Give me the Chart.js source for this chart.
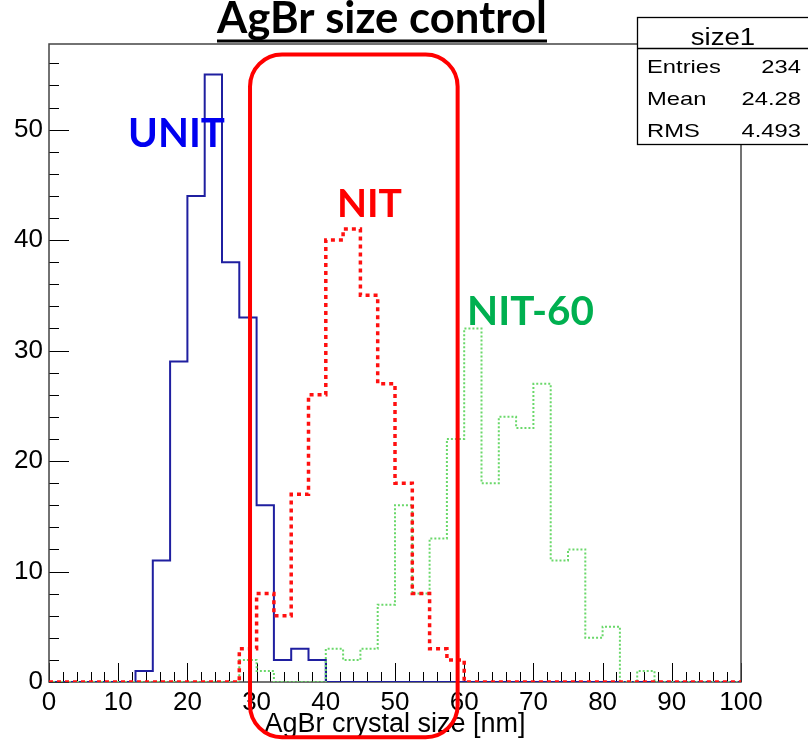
<!DOCTYPE html>
<html>
<head>
<meta charset="utf-8">
<script src="https://cdn.jsdelivr.net/npm/chart.js@4.4.1/dist/chart.umd.min.js"></script>
<style>
  html, body { margin: 0; padding: 0; background: #fff; }
</style>
</head>
<body>
<canvas id="size1" width="808" height="742"></canvas>
<script>
// 40 bins of 2.5 nm between 0 and 100 nm, counts
var binWidth = 2.5
var unitCounts = [0,0,0,0,0, 1,11,29,44,55, 38,33,16,2,3, 2,0,0,0,0, 0,0,0,0,0, 0,0,0,0,0, 0,0,0,0,0, 0,0,0,0,0]
var nitCounts = [0,0,0,0,0, 0,0,0,0,0, 0,3,8,6,17, 26,40,41,35,27, 18,8,3,2,0, 0,0,0,0,0, 0,0,0,0,0, 0,0,0,0,0]
var nit60Counts = [0,0,0,0,0, 0,0,0,0,0, 0,2,1,0,0, 0,3,2,3,7, 16,8,13,22,32, 18,24,23,27,11, 12,4,5,0,1, 0,0,0,0,0]

var xTickValues = [0, 10, 20, 30, 40, 50, 60, 70, 80, 90, 100]
var yTickValues = [0, 10, 20, 30, 40, 50]
var yMax = 57.75

var chartTitle = 'AgBr size control'
var xTitle = 'AgBr crystal size [nm]'
var statsName = 'size1'
var statsLabels = ['Entries', 'Mean', 'RMS']
var statsValues = ['234', '24.28', '4.493']

var tickFont = "'Liberation Sans', Arial, sans-serif"
var noteFont = "Lato, 'Open Sans', sans-serif"

// step outline: one point per lower bin edge plus the closing edge
function histPoints(counts) {
  var pts = counts.map(function(c, i) { return {x: i * binWidth, y: c} })
  pts.push({x: counts.length * binWidth, y: counts[counts.length - 1]})
  return pts
}

function fitSize(ctx, text, weight, family, width) {
  ctx.font = weight + ' 100px ' + family
  return 100 * width / ctx.measureText(text).width
}

function stretchText(ctx, text, x, y, align, size, sx) {
  ctx.save()
  ctx.translate(x, y)
  ctx.scale(sx, 1)
  ctx.font = size + 'px ' + tickFont
  ctx.textAlign = align
  ctx.textBaseline = 'alphabetic'
  ctx.fillText(text, 0, 0)
  ctx.restore()
}

function note(ctx, text, color, left, baseline, width) {
  var size = fitSize(ctx, text, 'bold', noteFont, width)
  ctx.font = 'bold ' + size + 'px ' + noteFont
  ctx.fillStyle = color
  ctx.textAlign = 'left'
  ctx.textBaseline = 'alphabetic'
  ctx.fillText(text, left, baseline)
}

var rootLook = {
  id: 'rootLook',
  beforeDatasetsDraw: function(chart) {
    var ctx = chart.ctx, a = chart.chartArea, sx = chart.scales.x, sy = chart.scales.y
    ctx.save()
    ctx.strokeStyle = '#000'
    ctx.lineWidth = 1
    ctx.beginPath()
    // inward ticks, primary every 10, secondary every 2
    for (var v = 0; v <= 100; v += 2) {
      var px = Math.round(sx.getPixelForValue(v)) + 0.5
      ctx.moveTo(px, a.bottom)
      ctx.lineTo(px, a.bottom - (v % 10 === 0 ? 19 : 10))
    }
    for (var w = 0; w <= yMax; w += 2) {
      var py = Math.round(sy.getPixelForValue(w)) + 0.5
      ctx.moveTo(a.left, py)
      ctx.lineTo(a.left + (w % 10 === 0 ? 20 : 10), py)
    }
    ctx.stroke()
    ctx.strokeStyle = '#444'
    ctx.lineWidth = 1.5
    ctx.strokeRect(a.left, a.top, a.right - a.left, a.bottom - a.top)
    ctx.restore()
  },
  afterDraw: function(chart) {
    var ctx = chart.ctx, sx = chart.scales.x, sy = chart.scales.y
    ctx.save()

    // red rounded box around 29-59 nm
    var x0 = sx.getPixelForValue(29.05), x1 = sx.getPixelForValue(59.05)
    var y0 = sy.getPixelForValue(56.8), y1 = sy.getPixelForValue(-5.0)
    var r = 32
    ctx.strokeStyle = '#ff0000'
    ctx.lineWidth = 4
    ctx.beginPath()
    ctx.moveTo(x0 + r, y0)
    ctx.arcTo(x1, y0, x1, y1, r)
    ctx.arcTo(x1, y1, x0, y1, r)
    ctx.arcTo(x0, y1, x0, y0, r)
    ctx.arcTo(x0, y0, x1, y0, r)
    ctx.closePath()
    ctx.stroke()

    // series names
    note(ctx, 'UNIT', '#0000f0', 128, 147, 97)
    note(ctx, 'NIT', '#ff0000', 337, 217, 65)
    note(ctx, 'NIT-60', '#00b050', 467, 325, 127)

    // title, underlined
    var tSize = fitSize(ctx, chartTitle, 'bold', noteFont, 330)
    ctx.font = 'bold ' + tSize + 'px ' + noteFont
    ctx.fillStyle = '#000'
    ctx.textAlign = 'left'
    ctx.fillText(chartTitle, 217, 33)
    ctx.fillRect(217, 39.5, 330, 3)

    // stats box
    ctx.fillStyle = '#fff'
    ctx.fillRect(637.5, 17.5, 180, 127)
    ctx.strokeStyle = '#000'
    ctx.lineWidth = 1.3
    ctx.strokeRect(637.5, 17.5, 180, 127)
    ctx.beginPath()
    ctx.moveTo(637.5, 48.5)
    ctx.lineTo(808, 48.5)
    ctx.stroke()
    ctx.fillStyle = '#000'
    stretchText(ctx, statsName, 723, 45, 'center', 23, 1.2)
    statsLabels.forEach(function(lab, i) {
      var base = 73 + i * 32
      stretchText(ctx, lab, 647, base, 'left', 19, 1.25)
      stretchText(ctx, statsValues[i], 801, base, 'right', 19, 1.25)
    })
    ctx.restore()
  }
}

var chart = new Chart('size1', {
  type: 'line',
  data: {
    datasets: [
      {
        label: 'UNIT',
        data: histPoints(unitCounts),
        stepped: true,
        borderColor: '#1f1fa0',
        borderWidth: 2,
        pointRadius: 0,
        fill: false,
        order: 3
      },
      {
        label: 'NIT-60',
        data: histPoints(nit60Counts),
        stepped: true,
        borderColor: '#6ad86a',
        borderWidth: 2,
        borderDash: [2, 2],
        pointRadius: 0,
        fill: false,
        order: 2
      },
      {
        label: 'NIT',
        data: histPoints(nitCounts),
        stepped: true,
        borderColor: '#ff1010',
        borderWidth: 3.5,
        borderDash: [4, 4],
        pointRadius: 0,
        fill: false,
        order: 1
      }
    ]
  },
  options: {
    responsive: false,
    animation: false,
    layout: {padding: {top: 44, right: 67, bottom: 0, left: 0}},
    plugins: {
      legend: {display: false},
      tooltip: {enabled: false},
      title: {display: false}
    },
    scales: {
      x: {
        type: 'linear',
        min: 0,
        max: 100,
        grid: {display: false, drawTicks: false},
        border: {display: false},
        afterBuildTicks: function(s) { s.ticks = xTickValues.map(function(v) { return {value: v} }) },
        afterFit: function(s) { s.height = 60 },
        ticks: {
          color: '#000',
          font: {family: tickFont, size: 26},
          padding: 5,
          maxRotation: 0,
          autoSkip: false
        },
        title: {
          display: true,
          text: xTitle,
          color: '#000',
          font: {family: tickFont, size: 27},
          padding: {top: 0, bottom: 1}
        }
      },
      y: {
        type: 'linear',
        min: 0,
        max: yMax,
        grid: {display: false, drawTicks: false},
        border: {display: false},
        afterBuildTicks: function(s) { s.ticks = yTickValues.map(function(v) { return {value: v} }) },
        afterFit: function(s) { s.width = 49 },
        ticks: {
          color: '#000',
          font: {family: tickFont, size: 26},
          padding: 6
        }
      }
    }
  },
  plugins: [rootLook]
})
</script>
</body>
</html>
